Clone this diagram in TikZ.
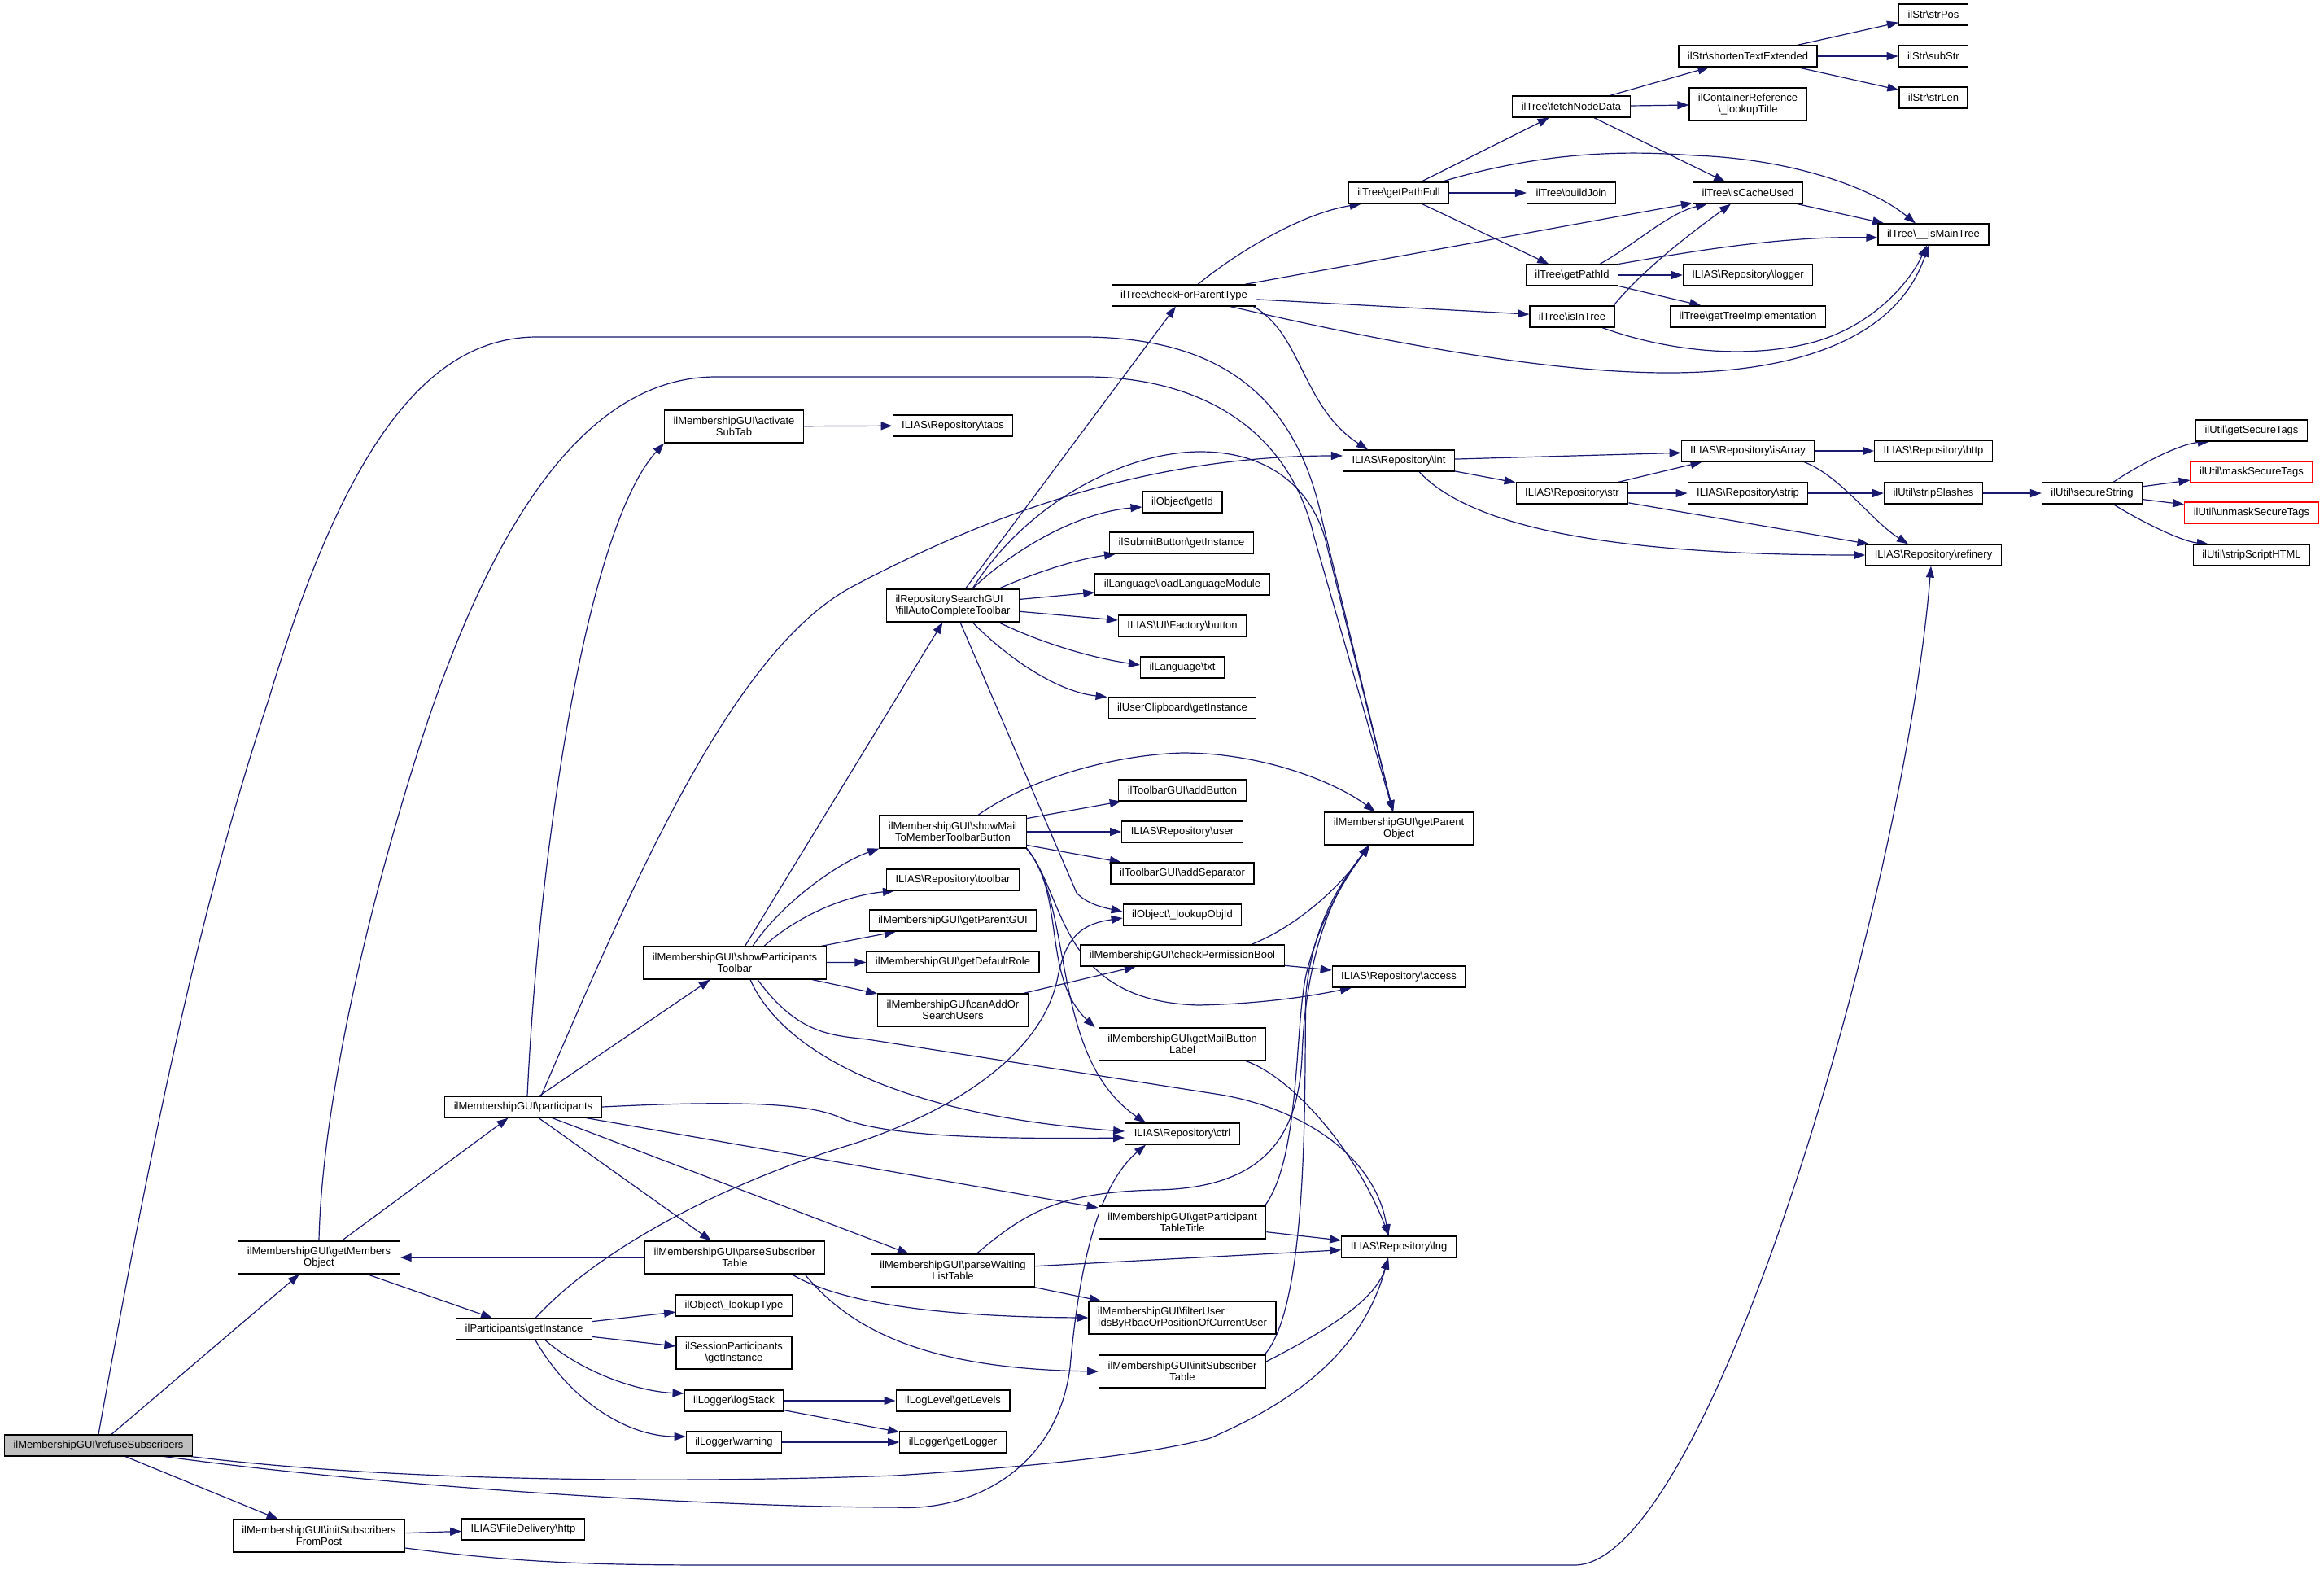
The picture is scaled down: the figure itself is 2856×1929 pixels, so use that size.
\documentclass[tikz,border=0pt]{standalone}
\usepackage{fontspec}
\setmainfont{Liberation Sans}
\usetikzlibrary{arrows.meta,calc}
\definecolor{edgecol}{HTML}{191970}
\definecolor{rootfill}{HTML}{BFBFBF}
\newcommand\bsl{\textbackslash}
\pgfdeclarelayer{bg}
\pgfsetlayers{bg,main}
\tikzset{
  box/.style={draw=black, line width=0.6pt, fill=white, inner xsep=5.5pt, inner ysep=3.4pt,
    minimum height=13pt, font=\fontsize{6.5pt}{7pt}\selectfont, align=center},
  two/.style={minimum height=20pt},
  rootbox/.style={fill=rootfill},
  redbox/.style={draw=red},
  edg/.style={draw=edgecol, line width=0.6pt, -{Triangle[length=7pt,width=5pt]}, fill=none},
}
\begin{document}
\begin{tikzpicture}[x=0.5pt,y=-0.5pt]
\useasboundingbox (0,0) rectangle (2856,1929);
% ---------------- nodes ----------------
\node[box,rootbox] (refuse) at (121,1776) {ilMembershipGUI\bsl refuseSubscribers};
\node[box,two] (gmo) at (392,1545) {ilMembershipGUI\bsl getMembers\\Object};
\node[box,two] (isfp) at (392,1887) {ilMembershipGUI\bsl initSubscribers\\FromPost};
\node[box] (part) at (643,1360) {ilMembershipGUI\bsl participants};
\node[box] (gpi) at (644,1633) {ilParticipants\bsl getInstance};
\node[box] (fdh) at (643,1879) {ILIAS\bsl FileDelivery\bsl http};
\node[box,two] (ast) at (902,524) {ilMembershipGUI\bsl activate\\SubTab};
\node[box,two] (spt) at (903,1183) {ilMembershipGUI\bsl showParticipants\\Toolbar};
\node[box,two] (pst) at (903,1545) {ilMembershipGUI\bsl parseSubscriber\\Table};
\node[box] (lt) at (902,1604) {ilObject\bsl \_lookupType};
\node[box,two] (sgi) at (902,1662) {ilSessionParticipants\\\bsl getInstance};
\node[box] (ls) at (902,1721) {ilLogger\bsl logStack};
\node[box] (lw) at (902,1772) {ilLogger\bsl warning};
\node[box] (tabs) at (1171,523) {ILIAS\bsl Repository\bsl tabs};
\node[box,two,align=left] (fill) at (1171,744) {ilRepositorySearchGUI\\\bsl fillAutoCompleteToolbar};
\node[box,two] (smtb) at (1171,1022) {ilMembershipGUI\bsl showMail\\ToMemberToolbarButton};
\node[box] (tb) at (1171,1081) {ILIAS\bsl Repository\bsl toolbar};
\node[box] (gpg) at (1171,1131) {ilMembershipGUI\bsl getParentGUI};
\node[box] (gdr) at (1171,1182) {ilMembershipGUI\bsl getDefaultRole};
\node[box,two] (caos) at (1171,1241) {ilMembershipGUI\bsl canAddOr\\SearchUsers};
\node[box,two] (pwl) at (1171,1561) {ilMembershipGUI\bsl parseWaiting\\ListTable};
\node[box] (gl) at (1171,1721) {ilLogLevel\bsl getLevels};
\node[box] (glog) at (1171,1772) {ilLogger\bsl getLogger};
\node[box] (cfpt) at (1455,363) {ilTree\bsl checkForParentType};
\node[box] (gid) at (1453,617) {ilObject\bsl getId};
\node[box] (sbgi) at (1452,667) {ilSubmitButton\bsl getInstance};
\node[box] (llm) at (1453,718) {ilLanguage\bsl loadLanguageModule};
\node[box] (uib) at (1453,769) {ILIAS\bsl UI\bsl Factory\bsl button};
\node[box] (txt) at (1453,820) {ilLanguage\bsl txt};
\node[box] (ucgi) at (1453,870) {ilUserClipboard\bsl getInstance};
\node[box] (ab) at (1453,971) {ilToolbarGUI\bsl addButton};
\node[box] (user) at (1453,1022) {ILIAS\bsl Repository\bsl user};
\node[box] (as) at (1453,1073) {ilToolbarGUI\bsl addSeparator};
\node[box] (loid) at (1453,1124) {ilObject\bsl \_lookupObjId};
\node[box] (cpb) at (1453,1174) {ilMembershipGUI\bsl checkPermissionBool};
\node[box,two] (gmbl) at (1453,1283) {ilMembershipGUI\bsl getMailButton\\Label};
\node[box] (ctrl) at (1453,1393) {ILIAS\bsl Repository\bsl ctrl};
\node[box,two] (gptt) at (1453,1502) {ilMembershipGUI\bsl getParticipant\\TableTitle};
\node[box,two,align=left] (fu) at (1453,1619) {ilMembershipGUI\bsl filterUser\\IdsByRbacOrPositionOfCurrentUser};
\node[box,two] (ist) at (1453,1685) {ilMembershipGUI\bsl initSubscriber\\Table};
\node[box,two] (gpo) at (1719,1018) {ilMembershipGUI\bsl getParent\\Object};
\node[box] (acc) at (1719,1200) {ILIAS\bsl Repository\bsl access};
\node[box] (lng) at (1719,1532) {ILIAS\bsl Repository\bsl lng};
\node[box] (int) at (1719,566) {ILIAS\bsl Repository\bsl int};
\node[box] (gpf) at (1719,237) {ilTree\bsl getPathFull};
\node[box] (fnd) at (1931,131) {ilTree\bsl fetchNodeData};
\node[box] (bj) at (1931,237) {ilTree\bsl buildJoin};
\node[box] (gpid) at (1932,338) {ilTree\bsl getPathId};
\node[box] (iit) at (1932,389) {ilTree\bsl isInTree};
\node[box] (str) at (1932,606) {ILIAS\bsl Repository\bsl str};
\node[box] (ste) at (2148,69) {ilStr\bsl shortenTextExtended};
\node[box,two] (lut) at (2148,128) {ilContainerReference\\\bsl \_lookupTitle};
\node[box] (icu) at (2148,237) {ilTree\bsl isCacheUsed};
\node[box] (logger) at (2148,338) {ILIAS\bsl Repository\bsl logger};
\node[box] (gti) at (2148,389) {ilTree\bsl getTreeImplementation};
\node[box] (isa) at (2148,554) {ILIAS\bsl Repository\bsl isArray};
\node[box] (strip) at (2148,606) {ILIAS\bsl Repository\bsl strip};
\node[box] (spos) at (2376,18) {ilStr\bsl strPos};
\node[box] (ssub) at (2376,69) {ilStr\bsl subStr};
\node[box] (slen) at (2376,120) {ilStr\bsl strLen};
\node[box] (imt) at (2376,288) {ilTree\bsl \_\_isMainTree};
\node[box] (http) at (2376,554) {ILIAS\bsl Repository\bsl http};
\node[box] (ss) at (2376,606) {ilUtil\bsl stripSlashes};
\node[box] (ref) at (2376,682) {ILIAS\bsl Repository\bsl refinery};
\node[box] (sec) at (2571,606) {ilUtil\bsl secureString};
\node[box] (gst) at (2767,529) {ilUtil\bsl getSecureTags};
\node[box,redbox] (mst) at (2767,580) {ilUtil\bsl maskSecureTags};
\node[box,redbox] (ust) at (2767,630) {ilUtil\bsl unmaskSecureTags};
\node[box] (ssh) at (2767,682) {ilUtil\bsl stripScriptHTML};
% ---------------- edges ----------------
\begin{pgfonlayer}{bg}
\fill[white] (0,0) rectangle (2856,1929);
% refuseSubscribers
\draw[edg] (refuse) -- (gmo);
\draw[edg] (refuse) -- (isfp);
\draw[edg] (refuse.north) .. controls (190,1380) and (250,1100) .. (330,860) .. controls (420,560) and (520,414) .. (660,414) -- (1320,414) .. controls (1480,412) and (1590,470) .. (1625,640) -- ($(gpo.north)+(-7,0)$);
\draw[edg] ($(refuse.south east)+(-35,0)$) .. controls (500,1830) and (900,1852) .. (1100,1852) .. controls (1200,1858) and (1300,1800) .. (1315,1680) .. controls (1325,1570) and (1345,1460) .. ($(ctrl.south)+(-45,0)$);
\draw[edg] ($(refuse.south east)+(-2,0)$) .. controls (500,1822) and (850,1822) .. (1100,1813) .. controls (1300,1800) and (1420,1785) .. (1487,1767) .. controls (1620,1710) and (1680,1640) .. ($(lng.south)+(-13,0)$);
% initSubscribersFromPost
\draw[edg] (isfp) -- (fdh);
\draw[edg] ($(isfp.east)+(0,15)$) .. controls (650,1922) and (750,1923) .. (900,1923) -- (1935,1923) .. controls (2100,1923) and (2340,1100) .. ($(ref.south)+(-3,0)$);
% getMembersObject
\draw[edg] (gmo) -- (gpi);
\draw[edg] (gmo) -- (part);
\draw[edg] (gmo.north) .. controls (395,1380) and (440,1150) .. (521,900) .. controls (620,600) and (740,463) .. (880,463) -- (1340,463) .. controls (1480,465) and (1585,530) .. (1615,660) -- ($(gpo.north)+(-7,0)$);
% participants
\draw[edg] ($(part.north)+(5,0)$) .. controls (662,1050) and (720,650) .. (ast.south west);
\draw[edg] ($(part.north)+(22,0)$) .. controls (780,1080) and (900,800) .. (1047,721) .. controls (1200,640) and (1400,560) .. ($(int.west)+(0,-6)$);
\draw[edg] (part) -- (spt);
\draw[edg] (part.east) .. controls (900,1352) and (990,1355) .. (1030,1372) .. controls (1080,1395) and (1200,1400) .. ($(ctrl.west)+(0,5)$);
\draw[edg] (part) -- (pst);
\draw[edg] (part) -- (pwl);
\draw[edg] (part) -- (gptt);
% ilParticipants getInstance
\draw[edg] (gpi) -- (lt);
\draw[edg] (gpi) -- (sgi);
\draw[edg] ($(gpi.south)+(26,0)$) .. controls (720,1690) and (790,1710) .. ($(ls.west)+(0,-9)$);
\draw[edg] ($(gpi.south)+(14,0)$) .. controls (700,1720) and (770,1765) .. ($(lw.west)+(0,-7)$);
\draw[edg] ($(gpi.north)+(14,0)$) .. controls (740,1530) and (900,1450) .. (1050,1405) .. controls (1200,1355) and (1285,1280) .. (1300,1200) .. controls (1310,1150) and (1330,1135) .. ($(loid.west)+(0,4)$);
% activateSubTab
\draw[edg] (ast) -- (tabs);
% showParticipantsToolbar
\draw[edg] (spt) -- (fill);
\draw[edg] ($(spt.north)+(22,0)$) .. controls (960,1110) and (1030,1060) .. (smtb.south west);
\draw[edg] ($(spt.north)+(36,0)$) .. controls (980,1125) and (1040,1100) .. ($(tb.south west)+(10,0)$);
\draw[edg] (spt) -- (gpg);
\draw[edg] (spt) -- (gdr);
\draw[edg] (spt) -- (caos);
\draw[edg] ($(spt.south)+(19,0)$) .. controls (960,1290) and (1100,1370) .. ($(ctrl.west)+(0,-3)$);
\draw[edg] ($(spt.south)+(28,0)$) .. controls (980,1270) and (1020,1272) .. (1066,1277) -- (1500,1345) .. controls (1600,1362) and (1690,1420) .. ($(lng.north)+(-13,0)$);
% fillAutoCompleteToolbar
\draw[edg] (fill) -- (cfpt);
\draw[edg] ($(fill.north)+(24,0)$) .. controls (1240,680) and (1320,630) .. ($(gid.west)+(0,6)$);
\draw[edg] ($(fill.north east)+(-26,0)$) .. controls (1280,700) and (1330,686) .. ($(sbgi.south west)+(8,0)$);
\draw[edg] (fill) -- (llm);
\draw[edg] (fill) -- (uib);
\draw[edg] ($(fill.south east)+(-26,0)$) .. controls (1280,790) and (1340,808) .. ($(txt.west)+(0,-3)$);
\draw[edg] ($(fill.south)+(24,0)$) .. controls (1240,810) and (1300,850) .. ($(ucgi.north west)+(-1,0)$);
\draw[edg] ($(fill.south)+(9,0)$) -- (1323,1097) .. controls (1335,1110) and (1355,1115) .. ($(loid.west)+(0,-4)$);
\draw[edg] ($(fill.north)+(24,0)$) .. controls (1260,620) and (1380,555) .. (1475,555) .. controls (1560,555) and (1610,600) .. (1628,660) -- ($(gpo.north)+(-7,0)$);
% showMailToMemberToolbarButton
\draw[edg] (smtb) -- (ab);
\draw[edg] (smtb) -- (user);
\draw[edg] (smtb) -- (as);
\draw[edg] ($(smtb.north)+(31,0)$) .. controls (1260,960) and (1360,928) .. (1453,925) .. controls (1550,925) and (1640,960) .. ($(gpo.north)+(-29,0)$);
\draw[edg] (smtb.south east) .. controls (1310,1100) and (1280,1200) .. ($(gmbl.north west)+(-4,0)$);
\draw[edg] (smtb.south east) .. controls (1320,1110) and (1290,1300) .. ($(ctrl.north)+(-45,0)$);
\draw[edg] (smtb.south east) .. controls (1310,1100) and (1300,1230) .. (1473,1235) .. controls (1560,1233) and (1620,1222) .. ($(acc.south)+(-58,0)$);
% canAddOrSearchUsers, checkPermissionBool
\draw[edg] (caos) -- (cpb);
\draw[edg] (cpb) -- (acc);
\draw[edg] ($(cpb.north)+(85,0)$) .. controls (1600,1135) and (1650,1085) .. ($(gpo.south)+(-36,0)$);
% getMailButtonLabel
\draw[edg] ($(gmbl.south)+(78,0)$) .. controls (1580,1320) and (1660,1400) .. ($(lng.north)+(-12,0)$);
% getParticipantTableTitle
\draw[edg] (gptt) -- (lng);
\draw[edg] ($(gptt.north east)+(-2,0)$) .. controls (1600,1420) and (1590,1250) .. (1607,1190) .. controls (1625,1120) and (1660,1070) .. ($(gpo.south)+(-36,0)$);
% parseWaitingListTable
\draw[edg] (pwl) -- (lng);
\draw[edg] (pwl) -- (fu);
\draw[edg] ($(pwl.north)+(29,0)$) .. controls (1260,1490) and (1300,1465) .. (1420,1462) .. controls (1560,1460) and (1595,1390) .. (1600,1300) .. controls (1605,1150) and (1650,1080) .. ($(gpo.south)+(-36,0)$);
% initSubscriberTable
\draw[edg] ($(ist.north east)+(-2,0)$) .. controls (1612,1600) and (1602,1300) .. (1605,1220) .. controls (1615,1120) and (1660,1070) .. ($(gpo.south)+(-36,0)$);
\draw[edg] ($(ist.east)+(0,-12)$) .. controls (1620,1640) and (1690,1600) .. ($(lng.south)+(-13,0)$);
% parseSubscriberTable
\draw[edg] (pst) -- (gmo);
\draw[edg] ($(pst.south)+(70,0)$) .. controls (1030,1600) and (1150,1618) .. (fu.west);
\draw[edg] ($(pst.south)+(86,0)$) .. controls (1050,1640) and (1150,1682) .. (ist.west);
% logger
\draw[edg] (ls) -- (gl);
\draw[edg] (ls) -- (glog);
\draw[edg] (lw) -- (glog);
% checkForParentType
\draw[edg] ($(cfpt.north)+(17,0)$) .. controls (1520,310) and (1600,262) .. ($(gpf.south west)+(16,0)$);
\draw[edg] (cfpt) -- (icu);
\draw[edg] (cfpt) -- (iit);
\draw[edg] ($(cfpt.south east)+(-4,0)$) .. controls (1600,410) and (1600,500) .. ($(int.north)+(-38,0)$);
\draw[edg] ($(cfpt.south)+(57,0)$) .. controls (1700,420) and (1900,458) .. (2050,458) .. controls (2200,458) and (2330,420) .. ($(imt.south)+(-6,0)$);
% getPathFull
\draw[edg] (gpf) -- (fnd);
\draw[edg] (gpf) -- (bj);
\draw[edg] (gpf) -- (gpid);
\draw[edg] ($(gpf.north east)+(-10,0)$) .. controls (1900,185) and (2000,185) .. (2082,191) .. controls (2200,195) and (2300,230) .. ($(imt.north)+(-22,0)$);
% fetchNodeData
\draw[edg] (fnd) -- (ste);
\draw[edg] (fnd) -- (lut);
\draw[edg] (fnd) -- (icu);
% getPathId
\draw[edg] ($(gpid.north)+(34,0)$) .. controls (2010,300) and (2050,262) .. ($(icu.south west)+(18,0)$);
\draw[edg] (gpid.north east) .. controls (2100,305) and (2200,290) .. ($(imt.west)+(0,4)$);
\draw[edg] (gpid) -- (logger);
\draw[edg] (gpid) -- (gti);
% isInTree
\draw[edg] ($(iit.north)+(51,0)$) .. controls (2020,330) and (2080,285) .. ($(icu.south)+(-21,0)$);
\draw[edg] ($(iit.south)+(37,0)$) .. controls (2050,432) and (2150,442) .. (2230,420) .. controls (2300,400) and (2345,350) .. ($(imt.south)+(-8,0)$);
% isCacheUsed
\draw[edg] (icu) -- (imt);
% shortenTextExtended
\draw[edg] (ste) -- (spos);
\draw[edg] (ste) -- (ssub);
\draw[edg] (ste) -- (slen);
% int
\draw[edg] (int) -- (isa);
\draw[edg] (int) -- (str);
\draw[edg] ($(int.south)+(25,0)$) .. controls (1800,640) and (1950,682) .. (ref.west);
% str
\draw[edg] (str) -- (isa);
\draw[edg] (str) -- (strip);
\draw[edg] (str) -- (ref);
% isArray
\draw[edg] (isa) -- (http);
\draw[edg] ($(isa.south)+(69,0)$) .. controls (2262,585) and (2300,640) .. ($(ref.north)+(-31,0)$);
% strip, stripSlashes
\draw[edg] (strip) -- (ss);
\draw[edg] (ss) -- (sec);
% secureString
\draw[edg] ($(sec.north)+(26,0)$) .. controls (2630,570) and (2680,545) .. ($(gst.south west)+(17,0)$);
\draw[edg] (sec) -- (mst);
\draw[edg] (sec) -- (ust);
\draw[edg] ($(sec.south)+(26,0)$) .. controls (2630,640) and (2680,665) .. ($(ssh.north west)+(19,0)$);
\end{pgfonlayer}
\end{tikzpicture}
\end{document}
